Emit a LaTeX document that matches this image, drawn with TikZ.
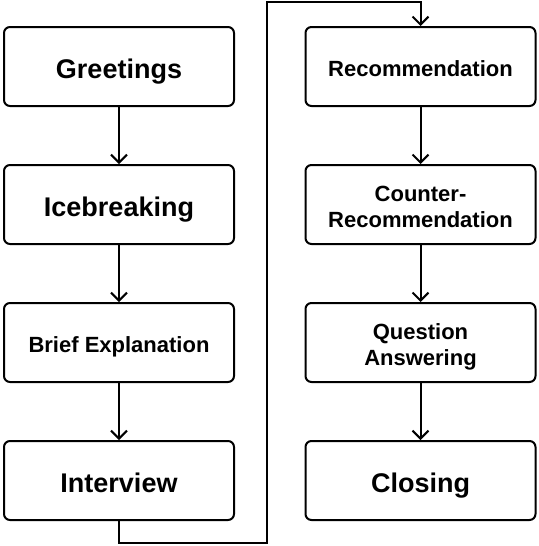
\documentclass[tikz,border=0pt]{standalone}
\usepackage{fontspec}
\setmainfont{Liberation Sans}
\usetikzlibrary{arrows.meta}
\begin{document}
\begin{tikzpicture}[x=1pt,y=-1pt,
  stepbox/.style={draw=black, line width=2pt, rounded corners=6pt, fill=white,
    minimum width=230pt, minimum height=79pt, inner sep=0pt, align=center,
    text depth=0pt},
  big/.style={font=\fontsize{27}{30}\selectfont\bfseries, text height=23.3pt},
  small/.style={font=\fontsize{22}{26}\selectfont\bfseries, text height=19.75pt},
  twoline/.style={font=\fontsize{22}{26}\selectfont\bfseries, text height=45.75pt},
  conn/.style={line width=2pt, -{Straight Barb[length=8pt,width=16pt,line width=2pt]}}]
\useasboundingbox (0,0) rectangle (538,546);
\node[stepbox,big] (g) at (119,66.5) {Greetings};
\node[stepbox,big] (i) at (119,204.5) {Icebreaking};
\node[stepbox,small] (b) at (119,342.5) {Brief Explanation};
\node[stepbox,big] (v) at (119,480.5) {Interview};
\node[stepbox,small] (r) at (420.5,66.5) {Recommendation};
\node[stepbox,twoline] (c) at (420.5,204.5) {Counter-\\Recommendation};
\node[stepbox,twoline] (q) at (420.5,342.5) {Question\\Answering};
\node[stepbox,big] (cl) at (420.5,480.5) {Closing};
\draw[conn] (g) -- (i);
\draw[conn] (i) -- (b);
\draw[conn] (b) -- (v);
\draw[conn] (r) -- (c);
\draw[conn] (c) -- (q);
\draw[conn] (q) -- (cl);
\coordinate (p1) at (119,543);
\coordinate (p2) at (267,543);
\coordinate (p3) at (267,2);
\coordinate (p4) at (420.5,2);
\draw[conn] (v.south) -- (p1) -- (p2) -- (p3) -- (p4) -- (r.north);
\end{tikzpicture}
\end{document}
